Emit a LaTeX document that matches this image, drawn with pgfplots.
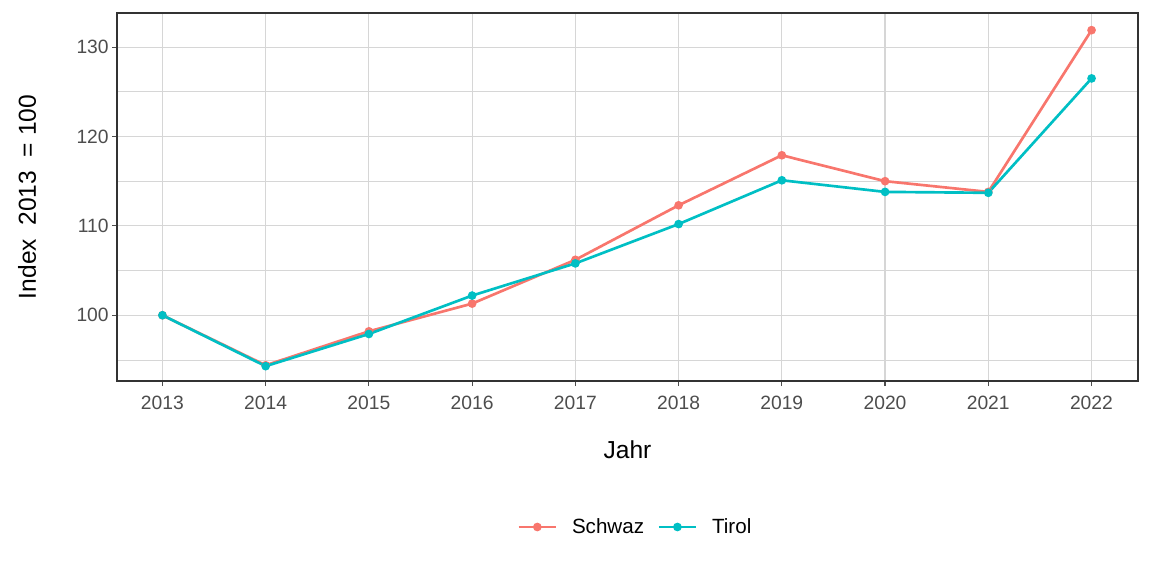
\documentclass[border=0pt]{standalone}
\usepackage{fontspec}
\setmainfont{Liberation Sans}
\usepackage{pgfplots}
\pgfplotsset{compat=1.18}
\definecolor{schwaz}{HTML}{F8766D}
\definecolor{tirol}{HTML}{00BFC4}
\definecolor{gridc}{HTML}{D6D6D6}
\definecolor{tickc}{HTML}{4D4D4D}
\definecolor{framec}{HTML}{333333}
\begin{document}
\begin{tikzpicture}
\useasboundingbox (-87.75bp,-146.25bp) rectangle (776.25bp,285.75bp);
\begin{axis}[
  at={(0,0)}, anchor=south west,
  scale only axis,
  width=765.75bp, height=276bp,
  xmin=2012.56, xmax=2022.45,
  ymin=92.64, ymax=133.82,
  xtick={2013,...,2022},
  ytick={100,110,120,130},
  minor ytick={95,105,115,125},
  grid=both,
  major grid style={gridc, line width=0.8bp},
  minor grid style={gridc, line width=0.6bp},
  axis line style={framec, line width=0.9bp},
  tick align=outside, tick pos=left,
  major tick length=3.75bp, minor tick length=0pt,
  tick style={tickc, line width=0.8bp},
  /pgf/number format/1000 sep={},
  /pgf/number format/assume math mode=true,
  ticklabel style={font=\fontsize{14.5}{17}\selectfont, text=tickc},
  xticklabel style={yshift=-4bp},
  yticklabel style={xshift=1bp},
  xlabel={Jahr},
  ylabel={Index\ \ 2013\ \ = 100},
  label style={font=\fontsize{18.5}{22}\selectfont},
  xlabel style={at={(axis description cs:0.5,0)}, anchor=center, yshift=-51.75bp},
  ylabel style={at={(axis description cs:-0.0881,0.5)}, anchor=center},
  legend columns=2,
  legend style={draw=none, fill=none, at={(axis description cs:0.508,0)}, yshift=-109.5bp, anchor=center,
    font=\fontsize{15.5}{18}\selectfont,
    /tikz/every odd column/.append style={column sep=9bp},
    /tikz/every even column/.append style={column sep=8bp}},
  legend image code/.code={%
    \draw[#1, mark repeat=2, mark phase=2] plot coordinates {(0bp,0bp) (14bp,0bp) (28bp,0bp)};},
]
\addplot[schwaz, line width=2bp, mark=*, mark size=2.2bp] coordinates {
  (2013,100) (2014,94.4) (2015,98.2) (2016,101.3) (2017,106.2)
  (2018,112.3) (2019,117.9) (2020,115.0) (2021,113.8) (2022,131.9)
};
\addlegendentry{Schwaz}
\addplot[tirol, line width=2bp, mark=*, mark size=2.2bp] coordinates {
  (2013,100) (2014,94.3) (2015,97.9) (2016,102.2) (2017,105.8)
  (2018,110.2) (2019,115.1) (2020,113.8) (2021,113.7) (2022,126.5)
};
\addlegendentry{Tirol}
\end{axis}
\end{tikzpicture}
\end{document}
